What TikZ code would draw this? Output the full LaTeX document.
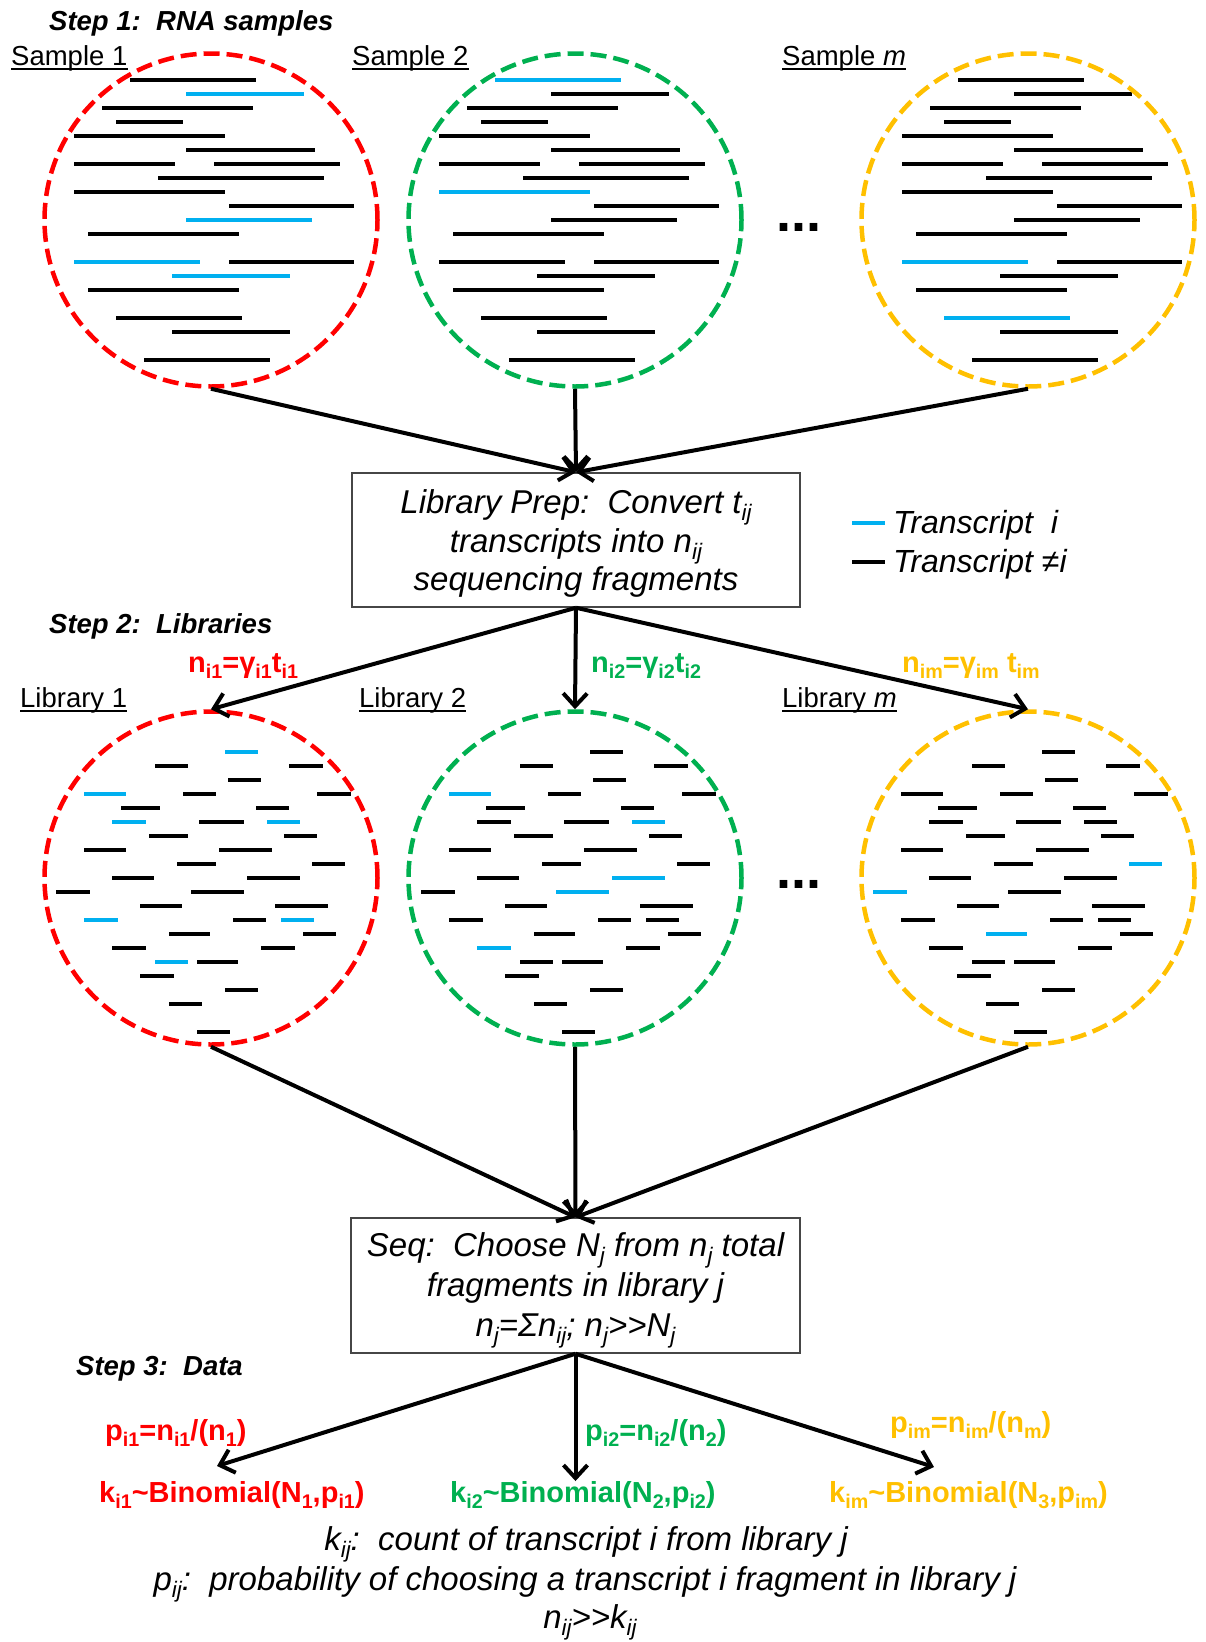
\documentclass[tikz,border=0pt]{standalone}
\usepackage{fontspec}
\setmainfont{Liberation Sans}
\usepackage{graphicx}
\usetikzlibrary{arrows.meta}
\definecolor{cred}{RGB}{255,0,0}
\definecolor{cgreen}{RGB}{0,176,80}
\definecolor{cgold}{RGB}{255,192,0}
\definecolor{tblue}{RGB}{0,176,240}
\definecolor{boxgray}{RGB}{70,70,70}
\newcommand\sbx[1]{\raisebox{-0.22em}{\scalebox{0.68}{#1}}}
\newcommand\fbody{\fontsize{33}{38.5}\selectfont}
\newcommand\fleg{\fontsize{32}{37}\selectfont}
\newcommand\flab{\fontsize{27.5}{32}\selectfont}
\newcommand\fcol{\fontsize{29}{33}\selectfont}
\begin{document}
\begin{tikzpicture}[x=1pt,y=-1pt,
  txt/.style={inner sep=0pt, anchor=base west},
  ctxt/.style={inner sep=0pt, anchor=base},
  ring/.style={circle, draw, line width=4.5pt, dash pattern=on 16pt off 7pt, minimum size=333pt, inner sep=0pt},
  frag/.style={line width=4pt},
  arr/.style={line width=4pt, -{Straight Barb[length=13pt,width=24pt]}},
  ulin/.style={line width=2pt},
  boxnode/.style={draw=boxgray, line width=1.5pt, align=center, inner sep=0pt},
  steptitle/.style={txt, font=\flab\bfseries\itshape},
  samplab/.style={txt, font=\flab},
  collab/.style={txt, font=\fcol\bfseries},
]
\useasboundingbox (0,0) rectangle (1206,1642);

% ---- sample fragments (circle 1 base, circle 2 +365, circle 3 +828)
\foreach \yy/\xa/\xb/\ca/\cb/\cc in {
  80/130/256/black/tblue/black,
  94/186/304/tblue/black/black,
  108/102/253/black/black/black,
  122/116/183/black/black/black,
  136/74/225/black/black/black,
  150/186/315/black/black/black,
  164/74/175/black/black/black,
  164/214/340/black/black/black,
  178/158/324/black/black/black,
  192/74/225/black/tblue/black,
  206/229/354/black/black/black,
  220/186/312/tblue/black/black,
  234/88/239/black/black/black,
  262/74/200/tblue/black/tblue,
  262/229/354/black/black/black,
  276/172/290/tblue/black/black,
  290/88/239/black/black/black,
  318/116/242/black/black/tblue,
  332/172/290/black/black/black,
  360/144/270/black/black/black}{
  \draw[frag,color=\ca] (\xa,\yy) -- (\xb,\yy);
  \draw[frag,color=\cb] (\xa+365,\yy) -- (\xb+365,\yy);
  \draw[frag,color=\cc] (\xa+828,\yy) -- (\xb+828,\yy);
}

% ---- library fragments (library 1 base, library 2 +365, library m +817)
\foreach \yy/\xa/\xb/\ca/\cb/\cc in {
  752/225/258/tblue/black/black,
  766/155/188/black/black/black,
  766/289/323/black/black/black,
  780/228/261/black/black/black,
  794/84/126/tblue/tblue/black,
  794/183/216/black/black/black,
  794/317/351/black/black/black,
  808/121/160/black/black/black,
  808/256/289/black/black/black,
  822/112/146/tblue/black/black,
  822/199/244/black/black/black,
  822/267/300/tblue/tblue/black,
  836/149/188/black/black/black,
  836/284/317/black/black/black,
  850/84/126/black/black/black,
  850/219/272/black/black/black,
  864/177/216/black/black/black,
  864/312/345/black/black/tblue,
  878/112/154/black/black/black,
  878/247/300/black/tblue/black,
  892/56/90/black/black/tblue,
  892/191/244/black/tblue/black,
  906/140/182/black/black/black,
  906/275/328/black/black/black,
  920/84/118/tblue/black/black,
  920/233/266/black/black/black,
  920/281/314/tblue/black/black,
  934/169/210/black/black/tblue,
  934/303/336/black/black/black,
  948/112/146/black/tblue/black,
  948/261/295/black/black/black,
  962/155/188/tblue/black/black,
  962/197/238/black/black/black,
  976/140/174/black/black/black,
  990/225/258/black/black/black,
  1004/169/202/black/black/black,
  1032/197/230/black/black/black}{
  \draw[frag,color=\ca] (\xa,\yy) -- (\xb,\yy);
  \draw[frag,color=\cb] (\xa+365,\yy) -- (\xb+365,\yy);
  \draw[frag,color=\cc] (\xa+817,\yy) -- (\xb+817,\yy);
}

% ---- circles
\node[ring, draw=cred]   (s1) at (211,220) {};
\node[ring, draw=cgreen] (s2) at (575,220) {};
\node[ring, draw=cgold]  (s3) at (1028,220) {};
\node[ring, draw=cred]   (l1) at (211,878) {};
\node[ring, draw=cgreen] (l2) at (575,878) {};
\node[ring, draw=cgold]  (l3) at (1028,878) {};

% ---- titles and labels
\node[steptitle] (t1) at (49,30) {Step 1:\ \ RNA samples};
\node[steptitle] (t2) at (49,633) {Step 2:\ \ Libraries};
\node[steptitle] (t3) at (76,1375) {Step 3:\ \ Data};

\node[samplab] (sl1) at (11,65) {Sample 1};
\node[samplab] (sl2) at (352,65) {Sample 2};
\node[samplab] (sl3) at (782,65) {Sample \textit{m}};
\node[samplab] (ll1) at (20,707) {Library 1};
\node[samplab] (ll2) at (359,707) {Library 2};
\node[samplab] (ll3) at (782,707) {Library \textit{m}};
\foreach \n in {sl1,sl2,sl3,ll1,ll2,ll3}{
  \draw[ulin] ([yshift=-3.5pt]\n.base west) -- ([yshift=-3.5pt]\n.base east);
}

\node[txt, font=\fontsize{54}{54}\selectfont\bfseries] (dots1) at (776,231) {...};
\node[txt, font=\fontsize{54}{54}\selectfont\bfseries] (dots2) at (776,888) {...};

% ---- boxes
\node[boxnode, minimum width=448pt, minimum height=134pt, font=\fbody\itshape] (prep) at (576,540)
  {\rule{0pt}{31pt}Library Prep:\ \ Convert t\sbx{ij}\\ transcripts into n\sbx{ij}\\ sequencing fragments};
\node[boxnode, minimum width=449pt, minimum height=135pt, font=\fontsize{33}{40}\selectfont\itshape] (seq) at (575.5,1285.5)
  {\rule{0pt}{33pt}Seq:\ \ Choose N\sbx{j} from n\sbx{j} total\\ fragments in library j\\ n\sbx{j}=Σn\sbx{ij}; n\sbx{j}>\kern0pt>N\sbx{j}};

% ---- legend
\draw[frag, tblue] (852,523) -- (885,523);
\draw[frag, black] (852,562) -- (885,562);
\node[txt, font=\fleg\itshape] (lg1) at (893,533) {Transcript\ \ i};
\node[txt, font=\fleg\itshape] (lg2) at (893,572) {Transcript ≠i};

% ---- coloured labels
\node[collab, cred]   (g1) at (188,672) {n\sbx{i1}=γ\sbx{i1}t\sbx{i1}};
\node[collab, cgreen] (g2) at (591,672) {n\sbx{i2}=γ\sbx{i2}t\sbx{i2}};
\node[collab, cgold]  (g3) at (902,672) {n\sbx{im}=γ\sbx{im} t\sbx{im}};

\node[collab, cred]   (p1) at (105,1440) {p\sbx{i1}=n\sbx{i1}/(n\sbx{1})};
\node[collab, cgreen] (p2) at (585,1440) {p\sbx{i2}=n\sbx{i2}/(n\sbx{2})};
\node[collab, cgold]  (p3) at (890,1432) {p\sbx{im}=n\sbx{im}/(n\sbx{m})};

\node[collab, cred]   (k1) at (99,1502) {k\sbx{i1}\textasciitilde Binomial(N\sbx{1},p\sbx{i1})};
\node[collab, cgreen] (k2) at (450,1502) {k\sbx{i2}\textasciitilde Binomial(N\sbx{2},p\sbx{i2})};
\node[collab, cgold]  (k3) at (829,1502) {k\sbx{im}\textasciitilde Binomial(N\sbx{3},p\sbx{im})};

% ---- bottom notes
\node[ctxt, font=\fbody\itshape] (b1) at (586,1550) {k\sbx{ij}:\ \ count of transcript i from library j};
\node[ctxt, font=\fbody\itshape] (b2) at (585,1590) {p\sbx{ij}:\ \ probability of choosing a transcript i fragment in library j};
\node[ctxt, font=\fbody\itshape] (b3) at (590,1628) {n\sbx{ij}>\kern0pt>k\sbx{ij}};

% ---- arrows
\coordinate (d1) at (217,1466);
\coordinate (d2) at (575.5,1481);
\coordinate (d3) at (934,1467);
\draw[arr] (s1.south) -- (prep.north);
\draw[arr] (s2.south) -- (prep.north);
\draw[arr] (s3.south) -- (prep.north);
\draw[arr] (prep.south) -- (l1.north);
\draw[arr] (prep.south) -- (l2.north);
\draw[arr] (prep.south) -- (l3.north);
\draw[arr] (l1.south) -- (seq.north);
\draw[arr] (l2.south) -- (seq.north);
\draw[arr] (l3.south) -- (seq.north);
\draw[arr] (seq.south) -- (d1);
\draw[arr] (seq.south) -- (d2);
\draw[arr] (seq.south) -- (d3);
\end{tikzpicture}
\end{document}
